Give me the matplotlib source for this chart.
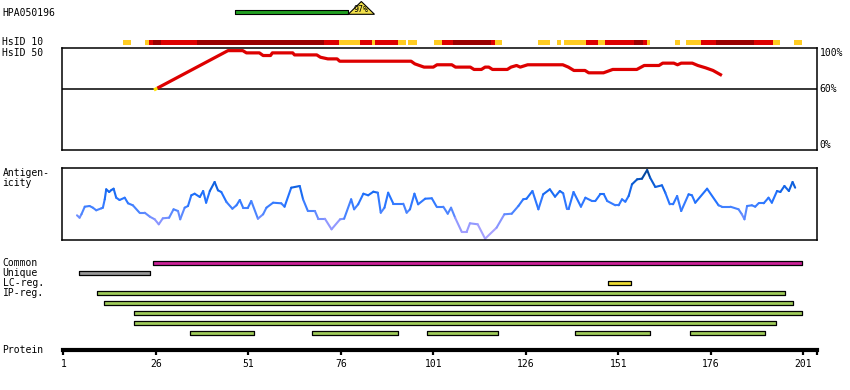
import numpy as np
import matplotlib
matplotlib.use("Agg")
import matplotlib.pyplot as plt
from matplotlib.collections import LineCollection
from matplotlib.colors import LinearSegmentedColormap

# ---- data (residue positions) ----
hpa_bar = (47.3, 78.0)
hpa_tri = (78.0, 85.1)
hpa_label = "97%"

hsid10_start = [17.2, 23.2, 24.2, 25.2, 27.4, 37.1, 71.5, 75.5, 81.2, 84.4, 85.2, 91.5,
                94.2, 101.2, 103.4, 106.3, 116.6, 117.7, 129.3, 134.4, 136.3, 142.3,
                145.5, 147.4, 155.3, 157.7, 158.8, 166.3, 169.3, 173.3, 177.4, 187.7,
                192.8, 198.5]
hsid10_end = [19.3, 24.2, 25.2, 27.4, 37.1, 71.5, 75.5, 81.2, 84.4, 85.2, 91.5, 93.6,
              96.5, 103.4, 106.3, 116.6, 117.7, 119.6, 132.5, 135.5, 142.3, 145.5,
              147.4, 155.3, 157.7, 158.8, 159.6, 167.7, 173.3, 177.4, 187.7, 192.8,
              194.7, 200.7]
hsid10_level = [0, 0, 1, 2, 1, 2, 1, 0, 1, 0, 1, 0,
                0, 0, 1, 2, 1, 0, 0, 0, 0, 1,
                0, 1, 2, 1, 0, 0, 0, 1, 2, 1,
                0, 0]

hsid50_res = [25.5, 26.4, 45.5, 49.5, 50.5, 54.0, 55.0, 57.0, 57.5, 63.0, 63.5, 69.5, 70.5,
              72.5, 75.0, 75.7, 95.0, 96.0, 98.5, 101.0, 102.0, 106.0, 107.0, 111.0, 112.0,
              114.0, 115.0, 116.0, 117.0, 121.0, 122.0, 123.5, 124.5, 126.5, 136.0, 137.5,
              139.0, 142.0, 143.0, 147.0, 149.5, 156.0, 158.0, 162.0, 163.0, 166.0, 167.0,
              168.0, 171.0, 172.5, 174.6, 176.6, 179.0]
hsid50_pct = [59.0, 60.8, 97.7, 97.7, 95.5, 95.5, 92.9, 92.9, 95.5, 95.5, 93.5, 93.5, 91.2,
              89.6, 89.6, 87.3, 87.3, 84.7, 81.5, 81.5, 83.8, 83.8, 81.5, 81.5, 79.2,
              79.2, 81.5, 81.5, 79.2, 79.2, 81.5, 83.1, 81.5, 83.8, 83.8, 81.5,
              78.2, 78.2, 75.9, 75.9, 79.2, 79.2, 83.1, 83.1, 85.4, 85.4, 83.8,
              85.4, 85.4, 83.1, 80.8, 78.2, 73.3]

antigen_res = [4.7, 5.4, 5.9, 6.8, 8.1, 9.0, 9.9, 11.3, 11.7, 12.2, 12.6, 13.4, 14.0, 14.6,
               15.3, 16.2, 17.6, 18.5, 19.8, 21.6, 23.0, 24.4, 25.7, 26.8, 27.9, 29.6,
               30.8, 32.0, 32.6, 33.8, 34.7, 35.6, 36.5, 37.9, 38.8, 39.6, 40.6, 41.9,
               42.8, 43.7, 45.1, 46.7, 47.8, 48.7, 49.6, 50.9, 51.8, 53.6, 55.0, 55.9,
               57.7, 59.9, 60.8, 62.6, 64.9, 65.8, 67.1, 69.0,
               69.9, 71.7, 73.5, 75.8, 76.9, 78.8, 79.6, 80.7, 82.1, 83.4, 84.8, 86.0,
               86.8, 87.8, 88.8, 90.2, 92.9, 93.8, 94.7, 95.9, 96.9, 98.8, 100.6, 101.9,
               103.7, 104.9, 105.8, 106.9, 108.7, 110.0, 110.9, 113.0, 115.0, 118.1,
               120.2, 122.2, 124.0, 125.3, 126.2, 127.8, 129.4, 130.7, 132.5, 133.9,
               135.2, 136.1, 137.1,
               137.6, 138.9, 140.9, 142.1, 143.9, 144.8, 146.1, 147.1, 148.0, 150.2,
               151.1, 152.0, 152.9, 153.8, 154.7, 156.1, 157.4, 158.8, 159.6, 161.0,
               162.8, 163.7, 164.9, 165.8, 166.9, 168.0, 170.0, 170.9, 171.8, 175.0,
               178.1, 179.0, 181.3, 183.5, 184.4, 185.1, 185.8, 187.1, 188.0, 188.9,
               190.3, 191.6, 192.5, 193.9, 194.8, 195.9, 197.1, 198.1, 198.8]
antigen_val = [24.7, 22.3, 25.7, 33.3, 34.0, 32.3, 29.7, 31.7, 32.3, 40.7, 50.7, 48.0, 50.0,
               51.3, 42.3, 40.0, 42.3, 36.7, 34.7, 27.3, 27.3, 23.3, 20.7, 15.7, 21.7,
               22.3, 30.7, 29.0, 20.7, 32.3, 34.0, 44.7, 46.3, 43.0, 49.0, 37.3, 49.0,
               58.0, 49.7, 48.0, 38.0, 31.3, 34.7, 40.0, 32.3, 32.3, 39.0, 21.3, 25.7,
               32.3, 37.3, 36.7, 33.3, 52.3, 54.0, 40.7, 29.0, 29.0,
               21.3, 21.3, 10.7, 20.7, 21.3, 40.7, 30.7, 35.7, 46.3, 44.7, 48.3, 47.3,
               27.3, 32.3, 47.3, 36.3, 36.3, 27.3, 30.7, 46.3, 35.7, 41.3, 41.7, 33.3,
               33.3, 26.3, 32.3, 22.3, 8.0, 8.0, 16.7, 15.7, 1.3, 12.3,
               25.7, 26.3, 34.0, 40.7, 41.3, 49.0, 30.7, 45.7, 50.7, 43.3,
               49.0, 46.7, 31.3,
               31.3, 48.0, 33.3, 42.3, 39.0, 39.0, 45.7, 45.7, 39.0, 34.7,
               34.7, 40.7, 38.3, 44.0, 55.7, 60.7, 61.3, 70.0, 62.3, 53.0,
               54.7, 47.3, 35.7, 35.7, 44.0, 29.0, 45.7, 44.7, 37.3, 51.3,
               34.7, 33.3, 33.3, 30.7, 25.7, 20.7, 34.0, 34.7, 33.3, 36.7,
               36.7, 42.3, 37.3, 49.0, 48.0, 54.0, 49.0, 58.0, 52.3]

common = [(25.3, 200.6)]
unique = [(5.2, 24.4)]
lc_reg = [(148.3, 154.5)]
ip_reg = [[(10.2, 196.0)],
          [(12.1, 198.2)],
          [(20.2, 200.6)],
          [(20.2, 193.5)],
          [(35.3, 52.5), (68.3, 91.4), (99.4, 118.4), (139.4, 159.5), (170.5, 190.6)]]

ruler_ticks = [1, 26, 51, 76, 101, 126, 151, 176, 201]
protein_end = 204.6

# ---- layout (pixels of an 850x390 canvas) ----
W, H = 850, 390
PX_L, PX_R = 62.3, 817.3
def res_x(px):
    return (px - 63.3) / 3.7 + 1
X0, X1 = res_x(PX_L), res_x(PX_R)

def fig_rect(top, bottom):
    return [PX_L / W, 1 - bottom / H, (PX_R - PX_L) / W, (bottom - top) / H]

FONT = dict(family="DejaVu Sans Mono", size=7)
level_colors = ["#FFCC22", "#DD0000", "#990000"]

fig = plt.figure(figsize=(8.5, 3.9), dpi=100)

# overlay axes for the tracks, y in pixel rows
ov = fig.add_axes([PX_L / W, 0, (PX_R - PX_L) / W, 1])
ov.set_xlim(X0, X1)
ov.set_ylim(H, 0)
ov.axis("off")

# HPA antigen bar + identity triangle
ov.broken_barh([(hpa_bar[0], hpa_bar[1] - hpa_bar[0])], (10, 4.3),
               facecolor="#22A022", edgecolor="black", linewidth=0.8)
tri_mid = (hpa_tri[0] + hpa_tri[1]) / 2
ov.fill([hpa_tri[0], tri_mid, hpa_tri[1]], [14.3, 1.5, 14.3],
        facecolor="#F2E04A", edgecolor="black", linewidth=0.8)
ov.text(tri_mid, 9.5, hpa_label, ha="center", va="center", family="DejaVu Sans Mono", size=6)

# HsID 10 track
for s, e, lv in zip(hsid10_start, hsid10_end, hsid10_level):
    ov.broken_barh([(s, e - s)], (40, 4.7), facecolor=level_colors[lv], edgecolor="none")

# feature rows
def draw_row(spans, y, color):
    ov.broken_barh([(s, e - s) for s, e in spans], (y - 2.0, 4.0),
                   facecolor=color, edgecolor="black", linewidth=0.9)

draw_row(common, 262.5, "#CC2299")
draw_row(unique, 272.5, "#999999")
draw_row(lc_reg, 282.5, "#EEDD33")
for i, spans in enumerate(ip_reg):
    draw_row(spans, 292.5 + 10 * i, "#A0CC5A")

# HsID 50 panel
ax1 = fig.add_axes(fig_rect(48.3, 150))
ax1.set_xlim(X0, X1)
ax1.set_ylim(0, 100)
ax1.set_xticks([]); ax1.set_yticks([])
for sp in ax1.spines.values():
    sp.set_linewidth(1.1)
ax1.axhline(60, color="black", lw=1.1)
ax1.plot(hsid50_res[1:], hsid50_pct[1:], color="#DD0000", lw=2.3, solid_capstyle="butt")
ax1.plot(hsid50_res[:2], hsid50_pct[:2], color="#FFE000", lw=2.3, solid_capstyle="butt")
for pct, lab in [(100, "100%"), (60, "60%"), (0, "0%")]:
    ax1.text(1.003, pct / 100, lab, transform=ax1.transAxes, ha="left",
             va="top" if pct == 100 else ("center" if pct == 60 else "bottom"),
             **FONT)

# Antigenicity panel
ax2 = fig.add_axes(fig_rect(168.3, 240))
ax2.set_xlim(X0, X1)
ax2.set_ylim(0, 71.7)
ax2.set_xticks([]); ax2.set_yticks([])
for sp in ax2.spines.values():
    sp.set_linewidth(1.1)
cmap = LinearSegmentedColormap.from_list(
    "antigen", [(0.0, "#B8A8FF"), (0.25, "#8C96FF"), (0.4, "#4E86FF"),
                (0.6, "#2272FF"), (0.8, "#0A5CD6"), (1.0, "#003C80")])
pts = np.column_stack([antigen_res, antigen_val])
segs = np.stack([pts[:-1], pts[1:]], axis=1)
mid = (np.array(antigen_val[:-1]) + np.array(antigen_val[1:])) / 2
lc = LineCollection(segs, cmap=cmap, norm=plt.Normalize(0, 71.7), linewidths=1.5,
                    capstyle="round")
lc.set_array(mid)
ax2.add_collection(lc)

# Protein ruler
ax3 = fig.add_axes([PX_L / W, 1 - 349.5 / H, (PX_R - PX_L) / W, 0.01])
ax3.set_xlim(X0, X1)
for k in ["top", "left", "right"]:
    ax3.spines[k].set_visible(False)
ax3.patch.set_visible(False)
ax3.spines["bottom"].set_linewidth(3)
ax3.spines["bottom"].set_bounds(1, protein_end)
ax3.set_yticks([])
ax3.set_xticks(ruler_ticks + [protein_end])
ax3.set_xticklabels([str(t) for t in ruler_ticks] + [""])
ax3.tick_params(axis="x", length=3.5, width=1.6, pad=3.5, labelsize=7)
for lab in ax3.get_xticklabels():
    lab.set_family("DejaVu Sans Mono")

# left labels
left_labels = [("HPA050196", 12.5), ("HsID 10", 42.3), ("HsID 50", 52.5),
               ("Antigen-", 173.5), ("icity", 183.3), ("Common", 262.5),
               ("Unique", 272.5), ("LC-reg.", 282.5), ("IP-reg.", 292.5),
               ("Protein", 350)]
for txt, y in left_labels:
    fig.text(2.5 / W, 1 - y / H, txt, ha="left", va="center", **FONT)

fig.savefig("out.png", dpi=100)
